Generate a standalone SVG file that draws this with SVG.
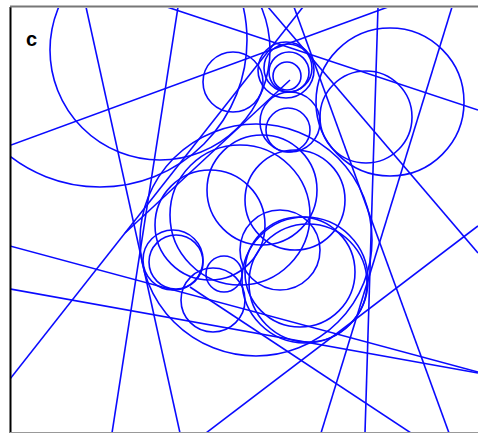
<svg xmlns="http://www.w3.org/2000/svg" width="478" height="433" viewBox="0 0 478 433">
<style>
.c{fill:none;stroke:#0a0aff;stroke-width:1.6}
.l{stroke:#0a0aff;stroke-width:1.6}
</style>
<defs><clipPath id="f"><rect x="11" y="8" width="467" height="424"/></clipPath></defs>
<rect width="478" height="433" fill="#fff"/>
<g id="scene" clip-path="url(#f)">
<g id="lines">
<line class="l" x1="86" y1="7" x2="180" y2="433"/>
<line class="l" x1="178" y1="7" x2="112" y2="433"/>
<line class="l" x1="11" y1="145" x2="388" y2="7"/>
<line class="l" x1="167" y1="7" x2="478" y2="110"/>
<line class="l" x1="378" y1="7" x2="365" y2="433"/>
<line class="l" x1="452" y1="7" x2="321" y2="433"/>
<line class="l" x1="294" y1="7" x2="449" y2="433"/>
<line class="l" x1="268" y1="7" x2="478" y2="253"/>
<line class="l" x1="206" y1="433" x2="478" y2="226"/>
<line class="l" x1="10" y1="289" x2="478" y2="373"/>
<line class="l" x1="10" y1="246" x2="478" y2="372"/>
<line class="l" x1="10" y1="379" x2="303" y2="7"/>
<line class="l" x1="190" y1="287" x2="411" y2="433"/>
<line class="l" x1="125" y1="233" x2="290" y2="80"/>
</g>
<g id="circles">
<circle class="c" cx="160" cy="50" r="110"/>
<circle class="c" cx="100" cy="40" r="147"/>
<circle class="c" cx="233" cy="82" r="30"/>
<circle class="c" cx="288" cy="68" r="24"/>
<circle class="c" cx="289" cy="72" r="20"/>
<circle class="c" cx="287" cy="76" r="14"/>
<circle class="c" cx="286" cy="70" r="28"/>
<circle class="c" cx="290" cy="122" r="30"/>
<circle class="c" cx="288" cy="130" r="22"/>
<circle class="c" cx="390" cy="102" r="74"/>
<circle class="c" cx="366" cy="117" r="46"/>
<circle class="c" cx="256" cy="240" r="116"/>
<circle class="c" cx="308" cy="283" r="59"/>
<circle class="c" cx="305" cy="280" r="63"/>
<circle class="c" cx="300" cy="272" r="55"/>
<circle class="c" cx="173" cy="260" r="30"/>
<circle class="c" cx="176" cy="262" r="27"/>
<circle class="c" cx="224" cy="274" r="18"/>
<circle class="c" cx="213" cy="300" r="32"/>
<circle class="c" cx="262" cy="190" r="55"/>
<circle class="c" cx="295" cy="200" r="50"/>
<circle class="c" cx="210" cy="225" r="55"/>
<circle class="c" cx="240" cy="215" r="70"/>
<circle class="c" cx="280" cy="250" r="40"/>
</g>
</g>
<g id="frame">
<line x1="10.5" y1="7" x2="10.5" y2="433" stroke="#000" stroke-width="2"/>
<line x1="10" y1="6.5" x2="478" y2="6.5" stroke="#777" stroke-width="2"/>
<line x1="10" y1="432.5" x2="478" y2="432.5" stroke="#999" stroke-width="1"/>
</g>
<text x="26" y="46" font-family="Liberation Sans, Arial, sans-serif" font-size="20" font-weight="bold" fill="#000">c</text>
</svg>
